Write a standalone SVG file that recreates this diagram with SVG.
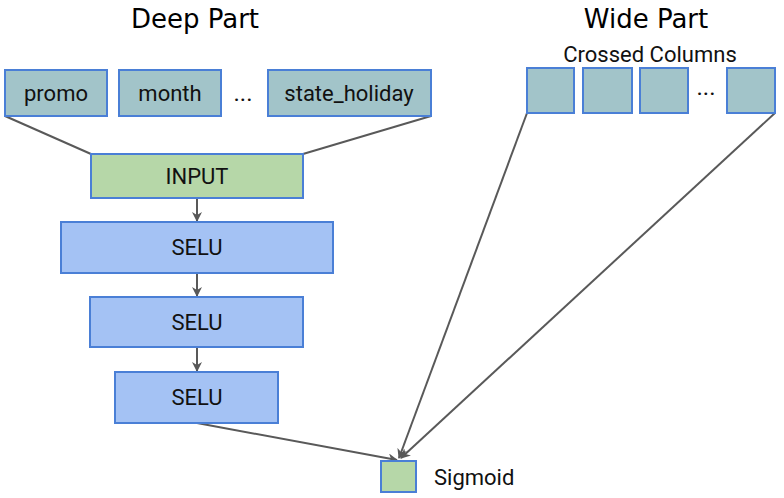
<svg xmlns="http://www.w3.org/2000/svg" width="784" height="498" viewBox="0 0 784 498">
<defs>
<marker id="ah" viewBox="0 0 10 10" refX="9" refY="5" markerWidth="5" markerHeight="5" orient="auto" markerUnits="strokeWidth"><path d="M0,0 L10,5 L0,10 L3,5 z" fill="#595959"/></marker>
<style>
.col{fill:#a2c4c9;stroke:#4a7fd6;stroke-width:2}
.inp{fill:#b6d7a8;stroke:#4a7fd6;stroke-width:2}
.selu{fill:#a4c2f4;stroke:#4a7fd6;stroke-width:2}
.t{font-family:Roboto,"Liberation Sans",sans-serif;font-size:22px;fill:#111;text-anchor:middle}
.dots{font-family:Roboto,"Liberation Sans",sans-serif;font-size:24px;fill:#111;text-anchor:middle}
.title{font-family:"Comic Sans MS","DejaVu Sans",sans-serif;font-size:26px;fill:#000;text-anchor:middle}
.ln{stroke:#595959;stroke-width:2;fill:none}
</style>
</defs>
<rect width="784" height="498" fill="#fff"/>
<text class="title" x="195" y="28">Deep Part</text>
<text class="title" x="646" y="28">Wide Part</text>
<text class="t" x="650" y="62">Crossed Columns</text>
<g id="connectors">
<line class="ln" x1="5" y1="116" x2="91" y2="154"/>
<line class="ln" x1="431" y1="116" x2="303" y2="154"/>
<line class="ln" x1="197" y1="198" x2="197" y2="221" marker-end="url(#ah)"/>
<line class="ln" x1="197" y1="273" x2="197" y2="296" marker-end="url(#ah)"/>
<line class="ln" x1="197" y1="347" x2="197" y2="371" marker-end="url(#ah)"/>
<line class="ln" x1="197" y1="423" x2="397" y2="460" marker-end="url(#ah)"/>
<line class="ln" x1="527" y1="113" x2="399" y2="458" marker-end="url(#ah)"/>
<line class="ln" x1="775" y1="113" x2="401" y2="458" marker-end="url(#ah)"/>
</g>
<g id="promo"><rect class="col" x="5" y="70" width="102" height="46"/><text class="t" x="56" y="101">promo</text></g>
<g id="month"><rect class="col" x="119" y="70" width="102" height="46"/><text class="t" x="170" y="101">month</text></g>
<text class="dots" x="243" y="101">...</text>
<g id="state_holiday"><rect class="col" x="268" y="70" width="163" height="46"/><text class="t" x="349" y="101">state_holiday</text></g>
<g id="input"><rect class="inp" x="91" y="154" width="212" height="44"/><text class="t" x="197" y="184">INPUT</text></g>
<g id="selu1"><rect class="selu" x="61" y="222" width="272" height="51"/><text class="t" x="197" y="255">SELU</text></g>
<g id="selu2"><rect class="selu" x="90" y="297" width="213" height="50"/><text class="t" x="197" y="330">SELU</text></g>
<g id="selu3"><rect class="selu" x="115" y="372" width="163" height="51"/><text class="t" x="197" y="405">SELU</text></g>
<g id="cross1"><rect class="col" x="527" y="68" width="47" height="45"/></g>
<g id="cross2"><rect class="col" x="583" y="68" width="49" height="45"/></g>
<g id="cross3"><rect class="col" x="640" y="68" width="48" height="45"/></g>
<text class="dots" x="706" y="95">...</text>
<g id="cross4"><rect class="col" x="727" y="68" width="48" height="45"/></g>
<g id="sigmoid"><rect class="inp" x="381" y="461" width="35" height="31"/><text class="t" x="434" y="485" style="text-anchor:start">Sigmoid</text></g>
</svg>
